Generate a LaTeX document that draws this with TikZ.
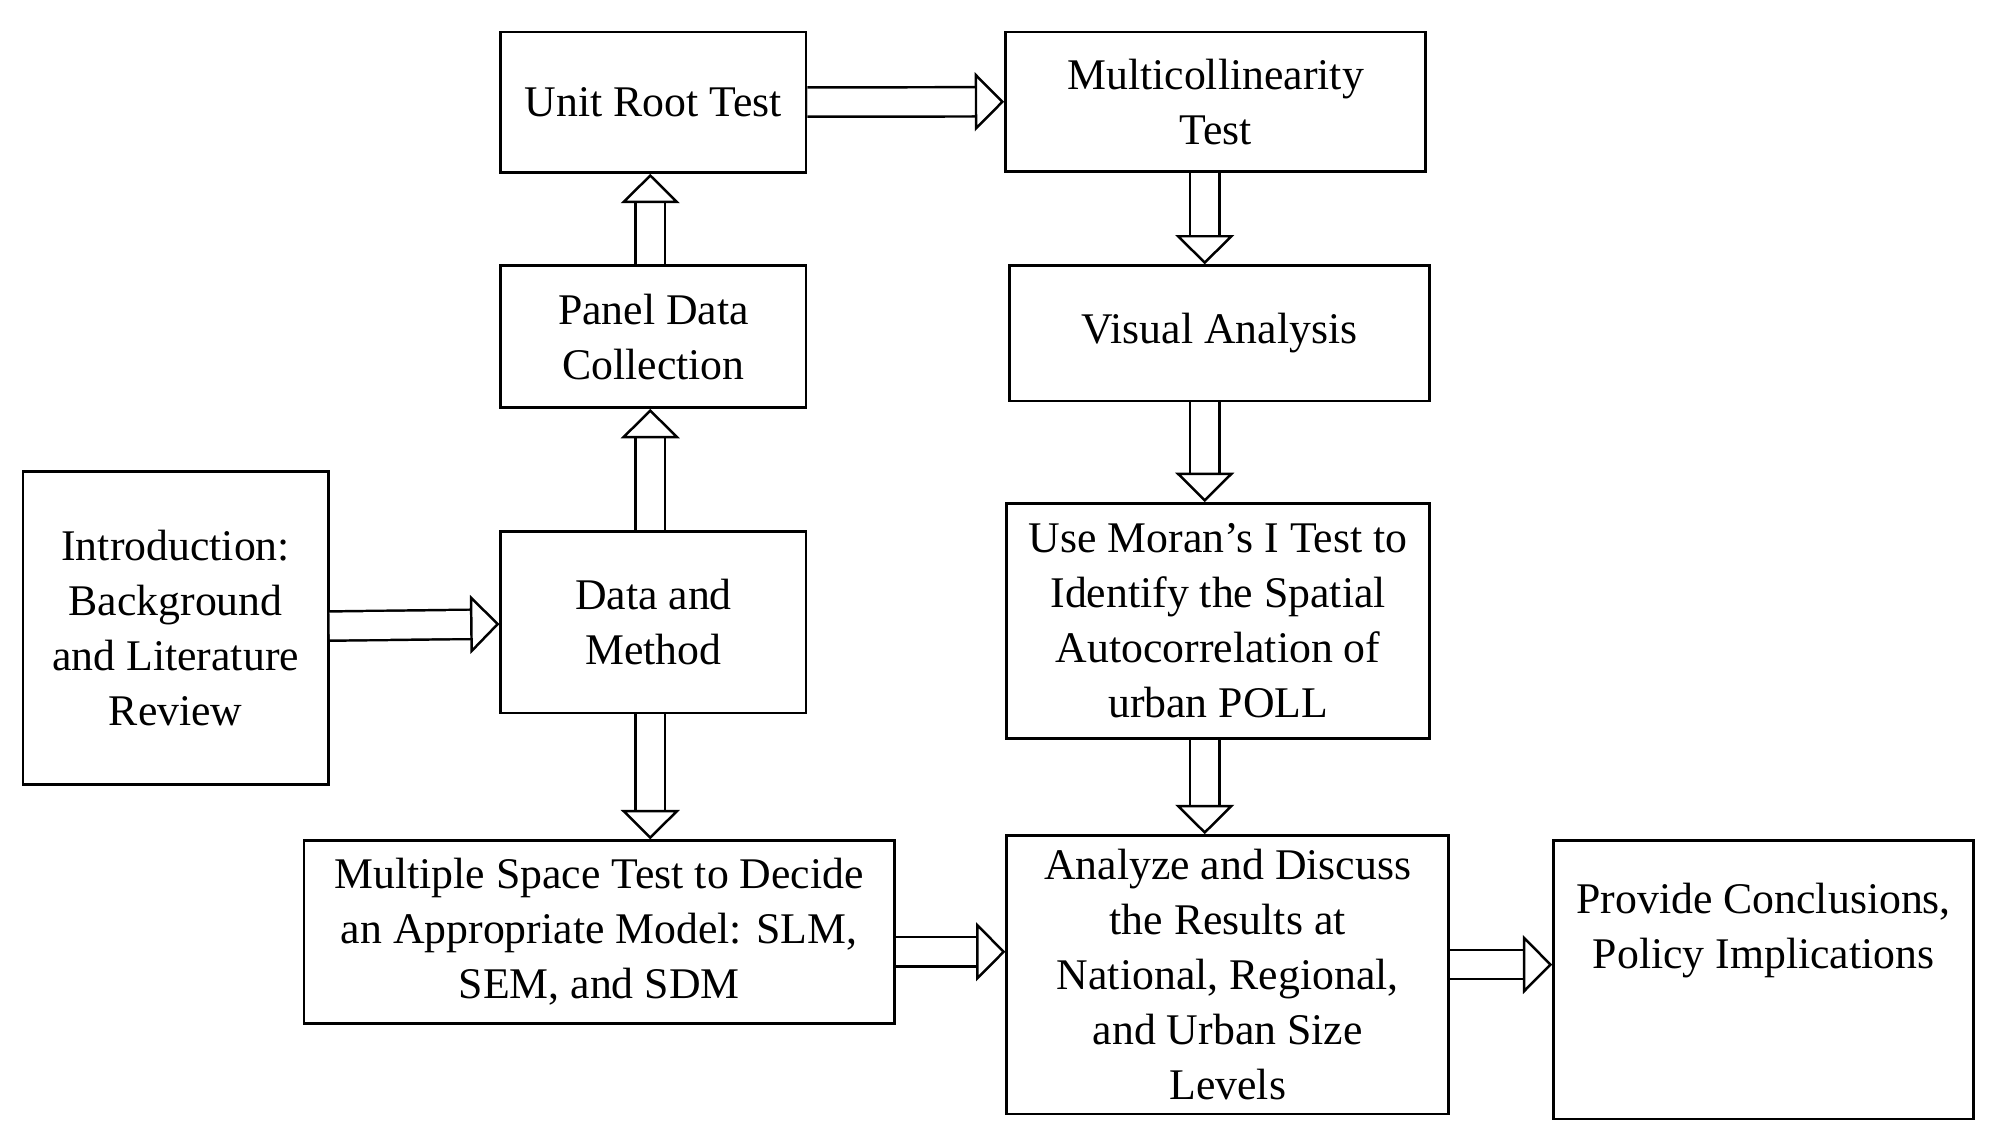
\documentclass[tikz,border=0pt]{standalone}
\usepackage{fontspec}
\setmainfont{Liberation Serif}
\usetikzlibrary{arrows.meta}

\begin{document}
\begin{tikzpicture}[x=0.02cm,y=-0.02cm]
  \tikzstyle{stage} = [draw, line width=1.2pt, align=center, inner sep=1pt,
                      font=\fontsize{19.5}{24.5}\selectfont]
  \tikzstyle{flow} = [draw, line width=1.1pt, double distance=0.42cm,
                      -{Triangle[open, length=0.46cm, width=0.92cm]}]
  \useasboundingbox (0,0) rectangle (1560,895);
  \node [stage, minimum width=4.78cm, minimum height=2.2cm] (unit) at (511.5,80) {Unit Root Test};
  \node [stage, minimum width=6.58cm, minimum height=2.18cm] (multi) at (951.5,79.5) {Multicollinearity\\Test};
  \node [stage, minimum width=4.78cm, minimum height=2.22cm] (panel) at (511.5,263.5) {Panel Data\\Collection};
  \node [stage, minimum width=6.58cm, minimum height=2.12cm] (visual) at (954.5,261) {Visual Analysis};
  \node [stage, minimum width=4.78cm, minimum height=4.9cm] (intro) at (137.5,491.5) {Introduction:\\Background\\and Literature\\Review};
  \node [stage, minimum width=4.78cm, minimum height=2.84cm] (data) at (511.5,487) {Data and\\Method};
  \node [stage, minimum width=6.62cm, minimum height=3.68cm] (moran) at (953.5,486) {Use Moran's I Test to\\Identify the Spatial\\Autocorrelation of\\urban POLL};
  \node [stage, minimum width=9.24cm, minimum height=2.86cm] (multiple) at (469,729.5) {Multiple Space Test to Decide\\an Appropriate Model: SLM,\\SEM, and SDM};
  \node [stage, minimum width=6.92cm, minimum height=4.36cm] (analyze) at (961,763) {Analyze and Discuss\\the Results at\\National, Regional,\\and Urban Size\\Levels};
  \node [stage, minimum width=6.58cm, minimum height=4.36cm] (provide) at (1380.5,767) {Provide Conclusions,\\Policy Implications\\[0.84cm]};

  % connectors
  \draw [flow] (unit) -- (multi);
  \draw [flow] ([xshift=-0.17cm]multi.south) -- ([xshift=-0.17cm]multi.south |- visual.north);
  \draw [flow] ([xshift=-0.05cm]panel.north) -- ([xshift=-0.05cm]unit.south);
  \draw [flow] ([xshift=-0.05cm]data.north) -- ([xshift=-0.05cm]panel.south);
  \draw [flow] (intro) -- (data);
  \draw [flow] ([xshift=-0.05cm]data.south) -- ([xshift=-0.05cm]data.south |- multiple.north);
  \draw [flow] ([xshift=-0.23cm]visual.south) -- ([xshift=-0.23cm]visual.south |- moran.north);
  \draw [flow] ([xshift=-0.21cm]moran.south) -- ([xshift=-0.21cm]moran.south |- analyze.north);
  \draw [flow] ([yshift=-0.31cm]multiple.east) -- ([yshift=-0.31cm]multiple.east -| analyze.west);
  \draw [flow] ([yshift=0.16cm]analyze.east) -- ([yshift=0.16cm]analyze.east -| provide.west);
\end{tikzpicture}
\end{document}
